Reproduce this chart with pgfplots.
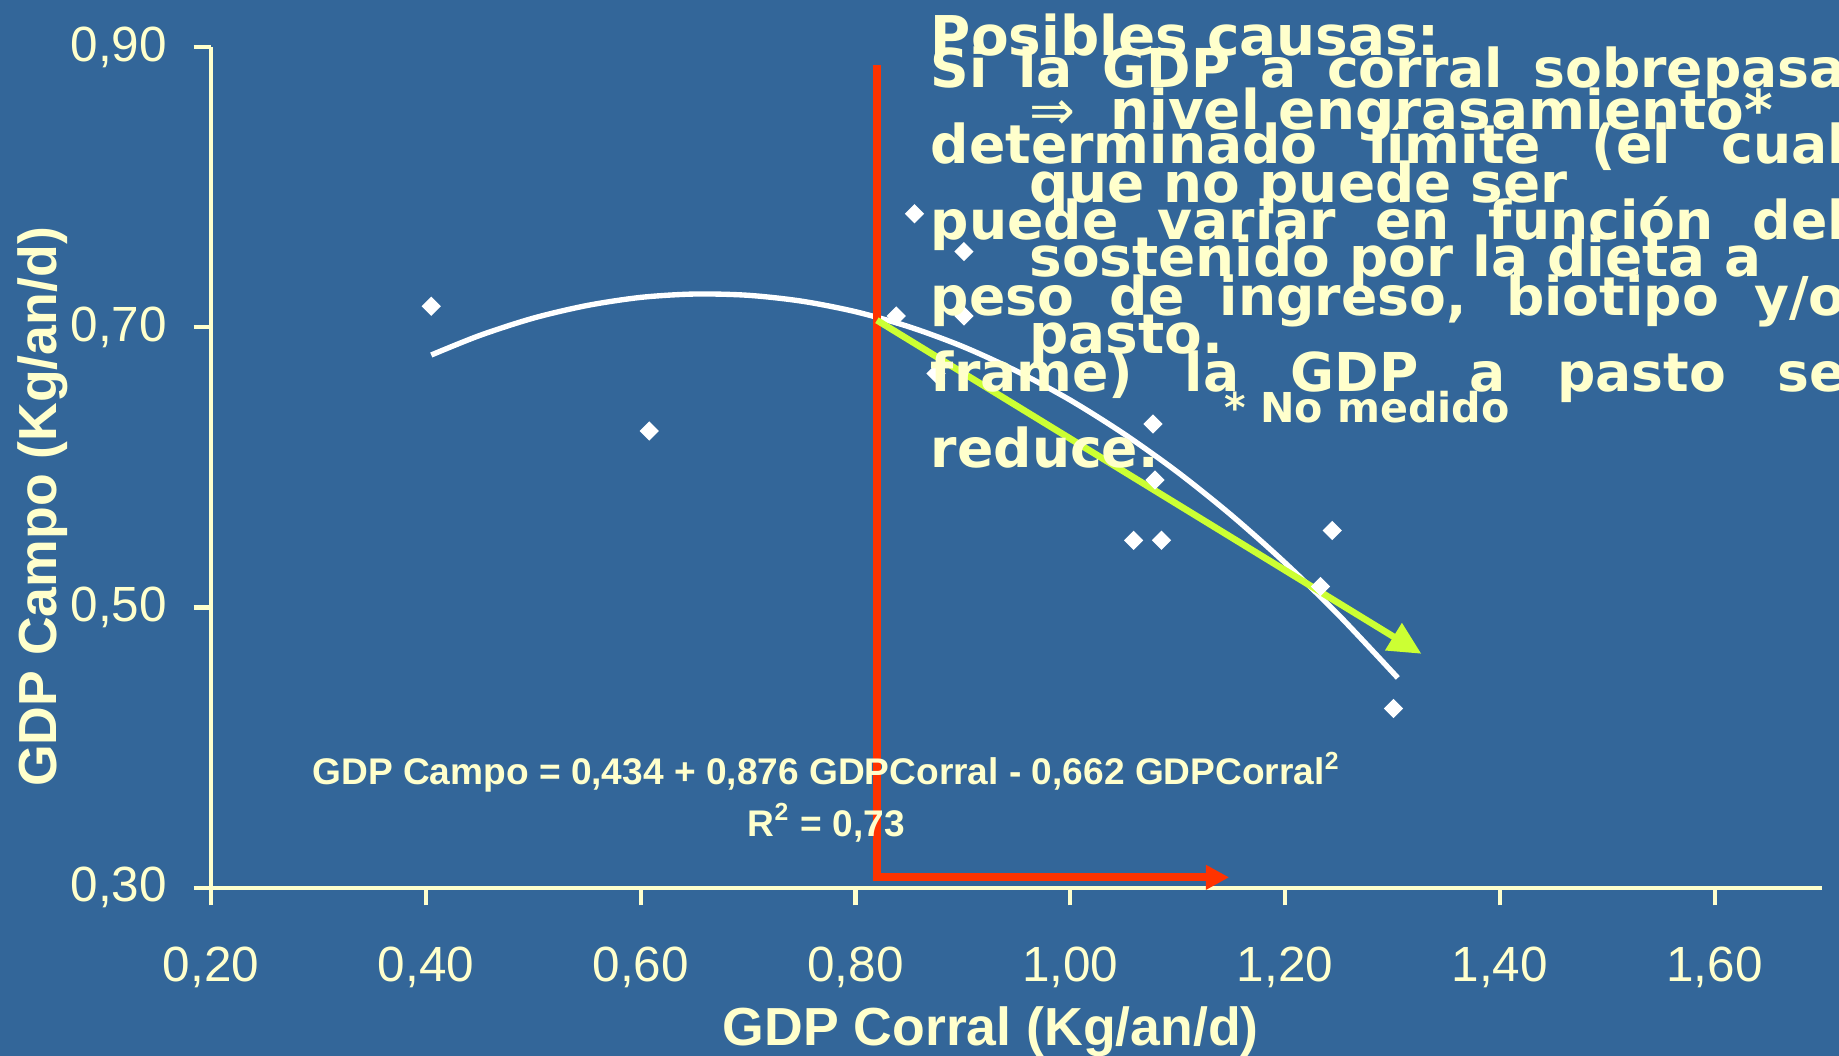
\documentclass[border=0pt]{standalone}
\usepackage{pgfplots}
\pgfplotsset{compat=1.18}
\usepackage{fontspec}
\setmainfont{Liberation Sans}
\newfontfamily\dv{DejaVu Sans}
\usetikzlibrary{arrows.meta}
\definecolor{bg}{HTML}{336699}
\definecolor{txt}{HTML}{FFFFCC}
\definecolor{redl}{HTML}{FF3300}
\definecolor{grn}{HTML}{CCFF33}
\begin{document}
\begin{tikzpicture}
\useasboundingbox (0,0) rectangle (15.68,9);
\fill[bg] (0,0) rectangle (15.68,9);
\begin{axis}[
  at={(1.80cm,1.43cm)}, anchor=south west,
  width=13.735cm, height=7.17cm, scale only axis,
  xmin=0.2, xmax=1.7, ymin=0.3, ymax=0.9,
  axis lines=left, axis line style={-, draw=txt, line width=1pt},
  clip=false,
  xtick={0.2,0.4,0.6,0.8,1.0,1.2,1.4,1.6},
  ytick={0.3,0.5,0.7,0.9},
  tick align=outside, major tick length=0.15cm,
  tick style={draw=txt, line width=1pt},
  /pgf/number format/fixed, /pgf/number format/fixed zerofill,
  /pgf/number format/precision=2, /pgf/number format/use comma,
  /pgf/number format/assume math mode=true,
  xticklabel style={font=\fontsize{12}{14}\selectfont, text=txt, anchor=base, yshift=-0.65cm},
  yticklabel style={font=\fontsize{12}{14}\selectfont, text=txt, anchor=east, inner sep=0pt, xshift=-0.22cm},
  xlabel={GDP Corral (Kg/an/d)},
  xlabel style={at={(axis description cs:0.484,-0.187)}, anchor=base, font=\fontsize{13}{15}\selectfont\bfseries, text=txt},
  ylabel={GDP Campo (Kg/an/d)},
  ylabel style={at={(axis description cs:-0.0957,0.453)}, anchor=base, font=\fontsize{13}{15}\selectfont\bfseries, text=txt},
]
\addplot[white, line width=1.3pt, smooth] coordinates {
 (0.405,0.6802) (0.45,0.6941) (0.50,0.7065) (0.55,0.7155) (0.60,0.7213)
 (0.65,0.7237) (0.70,0.7228) (0.75,0.7186) (0.80,0.7111) (0.85,0.7003)
 (0.90,0.6862) (0.95,0.6687) (1.00,0.6480) (1.05,0.6239) (1.10,0.5966)
 (1.15,0.5659) (1.20,0.5319) (1.25,0.4946) (1.305,0.4498)
};
\addplot[only marks, mark=square*, mark size=1.45pt, mark options={rotate=45}, white] coordinates {
 (0.405,0.715) (0.608,0.626) (0.855,0.781) (0.901,0.754) (0.838,0.708)
 (0.901,0.708) (0.875,0.667) (1.077,0.631) (1.079,0.591) (1.059,0.548)
 (1.085,0.548) (1.244,0.555) (1.233,0.515) (1.301,0.428)
};
\draw[redl, line width=2pt, -{Triangle[length=0.2cm,width=0.2cm]}] (axis cs:0.82,0.8874) -- (axis cs:0.82,0.3075) -- (axis cs:1.148,0.3075);
\draw[grn, line width=1.6pt, -{Triangle[length=0.28cm,width=0.26cm]}] (axis cs:0.82,0.705) -- (axis cs:1.327,0.467);
\node[text=txt, font=\fontsize{9}{11}\selectfont\bfseries, anchor=base, inner sep=0pt] at (axis cs:0.773,0.3734) {GDP Campo = 0,434 + 0,876 GDPCorral - 0,662 GDPCorral\textsuperscript{2}};
\node[text=txt, font=\fontsize{9}{11}\selectfont\bfseries, anchor=base, inner sep=0pt] at (axis cs:0.773,0.3365) {R\textsuperscript{2} = 0,73};
\end{axis}
\begin{scope}
\clip (0,0) rectangle (15.68,9);
\begin{scope}[every node/.style={anchor=base west, inner sep=0pt, text=txt, font=\dv\fontsize{13}{15}\selectfont\bfseries}]
\node at (7.93,8.255) {\makebox[7.8cm][s]{Si la GDP a corral sobrepasa}};
\node at (7.93,7.606) {\makebox[7.8cm][s]{determinado límite (el cual}};
\node at (7.93,6.957) {\makebox[7.8cm][s]{puede variar en función del}};
\node at (7.93,6.308) {\makebox[7.8cm][s]{peso de ingreso, biotipo y/o}};
\node at (7.93,5.659) {\makebox[7.8cm][s]{frame) la GDP a pasto se}};
\node at (7.93,5.010) {reduce.};
\end{scope}
\begin{scope}[every node/.style={anchor=base west, inner sep=0pt, text=txt, font=\dv\fontsize{13.3}{15}\selectfont\bfseries}]
\node at (7.93,8.53) {Posibles causas:};
\node[font=\dv\fontsize{13.3}{15}\selectfont] at (8.77,7.90) {⇒};
\node at (9.46,7.90) {nivel engrasamiento*};
\node at (8.77,7.27) {que no puede ser};
\node at (8.77,6.64) {sostenido por la dieta a};
\node at (8.77,5.99) {pasto.};
\node[font=\dv\fontsize{10}{12}\selectfont\bfseries] at (10.43,5.40) {* No medido};
\end{scope}
\end{scope}
\end{tikzpicture}
\end{document}
